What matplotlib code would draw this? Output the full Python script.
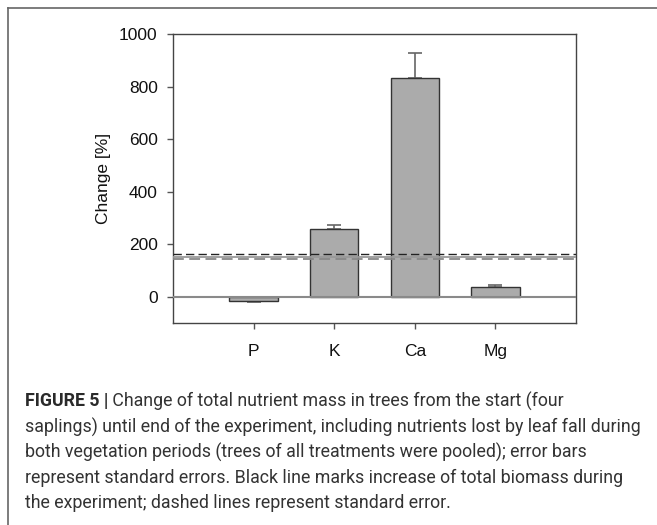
import matplotlib
matplotlib.use("Agg")
import matplotlib.pyplot as plt
from matplotlib.lines import Line2D

categories = ["P", "K", "Ca", "Mg"]
values = [-15, 256, 831, 37]
errors = [6, 16, 95, 6]
biomass_mean = 152
biomass_upper = 162
biomass_lower = 142
yticks = [0, 200, 400, 600, 800, 1000]

plt.rcParams['font.family'] = ['Liberation Sans', 'DejaVu Sans']

fig = plt.figure(figsize=(6.57, 5.25), dpi=100)
ax = fig.add_axes([173/657, 1 - 323/525, (576 - 173)/657, (323 - 34)/525])

x = list(range(1, len(categories) + 1))
ax.bar(x, values, width=0.6, color="#ababab", edgecolor="#333333", linewidth=1.0, zorder=3)
lower = [e if v < 0 else 0 for v, e in zip(values, errors)]
upper = [0 if v < 0 else e for v, e in zip(values, errors)]
ax.errorbar(x, values, yerr=[lower, upper], fmt="none", ecolor="#666666",
            elinewidth=1.2, capsize=5, capthick=1.2, zorder=2)

ax.axhline(0, color="#8a8a8a", linewidth=1.5, zorder=4)
ax.axhline(biomass_mean, color="#999999", linewidth=1.3, zorder=4)
ax.axhline(biomass_upper, color="#222222", linewidth=1.0, linestyle=(0, (6, 3)), zorder=5)
ax.axhline(biomass_lower, color="#888888", linewidth=1.3, linestyle=(0, (6, 3)), zorder=5)

ax.set_xlim(0, 5)
ax.set_ylim(-100, 1000)
ax.set_yticks(yticks)
ax.set_yticklabels([str(t) for t in yticks])
ax.set_xticks(x)
ax.set_xticklabels(categories)
ax.tick_params(axis="both", direction="out", length=4, width=1, color="#555555",
               labelsize=12.5, labelcolor="#111111", pad=7)
ax.tick_params(axis="x", pad=11)
for s in ax.spines.values():
    s.set_color("#444444")
    s.set_linewidth(1.0)
ax.set_ylabel("Change [%]", fontsize=12.5, color="#111111", labelpad=6)

# outer frame (top and left edges)
fig.add_artist(Line2D([8/657, 1.0], [1 - 8/525, 1 - 8/525], transform=fig.transFigure,
                      color="#666666", linewidth=1.2))
fig.add_artist(Line2D([8/657, 8/657], [0, 1 - 8/525], transform=fig.transFigure,
                      color="#666666", linewidth=1.2))

cap_lines = [
    " Change of total nutrient mass in trees from the start (four",
    "saplings) until end of the experiment, including nutrients lost by leaf fall during",
    "both vegetation periods (trees of all treatments were pooled); error bars",
    "represent standard errors. Black line marks increase of total biomass during",
    "the experiment; dashed lines represent standard error.",
]
ys = [401, 427, 452, 478, 503]
fs = 12.8
cap_font = ['Roboto', 'DejaVu Sans']
t = fig.text(25/657, 1 - ys[0]/525, "FIGURE 5 |", fontsize=fs, fontweight="bold",
             color="#2a2a2a", va="center", ha="left", family=cap_font)
fig.canvas.draw()
bb = t.get_window_extent()
fig.text(bb.x1/657, 1 - ys[0]/525, cap_lines[0], fontsize=fs, color="#333333",
         va="center", ha="left", family=cap_font)
for line, yy in zip(cap_lines[1:], ys[1:]):
    fig.text(25/657, 1 - yy/525, line, fontsize=fs, color="#333333",
             va="center", ha="left", family=cap_font)

fig.savefig("out.png", dpi=100)
